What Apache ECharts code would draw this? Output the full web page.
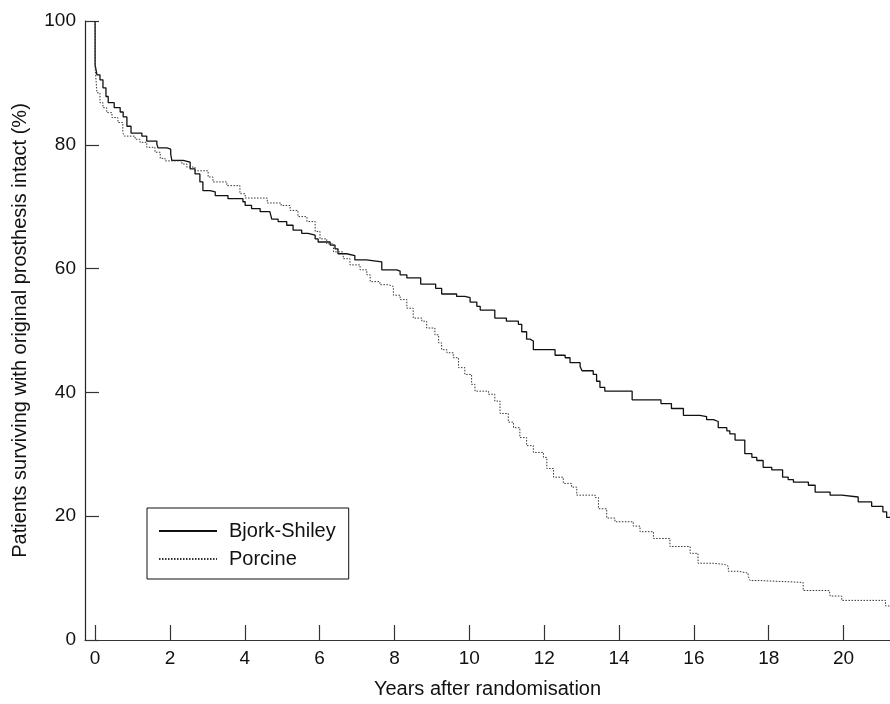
<!DOCTYPE html>
<html>
<head>
<meta charset="utf-8">
<script src="https://cdn.jsdelivr.net/npm/echarts@6/dist/echarts.min.js"></script>
<style>
html,body{margin:0;padding:0;background:#fff;}
#chart{width:890px;height:704px;}
</style>
</head>
<body>
<div id="chart"></div>
<script>
// Kaplan-Meier style step data: [years, percent]
const bjorkShiley = [
  [0,100],[0,92.9],[0.05,91.3],[0.13,90.5],[0.21,89.2],[0.29,87.8],[0.35,86.8],[0.51,86.0],
  [0.67,85.3],[0.75,84.5],[0.85,83.0],[0.96,81.9],[1.25,81.4],[1.38,80.6],[1.65,80.1],[1.68,79.5],
  [1.92,79.3],[2.02,78.5],[2.05,77.5],[2.35,77.2],[2.54,76.1],[2.67,75.3],[2.80,74.0],[2.88,72.6],
  [3.07,72.4],[3.21,71.8],[3.55,71.3],[3.95,70.8],[4.01,70.2],[4.18,69.7],[4.41,69.2],[4.67,68.9],
  [4.72,68.0],[4.89,67.6],[5.12,67.0],[5.29,66.2],[5.52,65.7],[5.69,65.4],[5.88,64.8],[5.96,64.3],
  [6.28,63.8],[6.41,63.2],[6.49,62.4],[6.72,62.1],[6.94,61.4],[7.25,61.1],[7.66,59.8],[8.06,59.6],
  [8.15,59.0],[8.33,58.5],[8.70,57.5],[9.10,56.8],[9.26,55.9],[9.66,55.5],[9.88,55.3],[10.02,54.6],
  [10.20,53.9],[10.29,53.3],[10.68,52.0],[10.99,51.5],[11.31,51.0],[11.40,49.8],[11.53,48.6],
  [11.62,48.3],[11.71,46.9],[12.29,46.0],[12.56,45.6],[12.69,44.8],[12.96,44.2],[13.01,43.5],
  [13.31,42.9],[13.40,41.8],[13.49,40.8],[13.62,40.2],[14.35,38.8],[15.12,38.2],[15.40,37.4],
  [15.72,36.3],[16.16,36.1],[16.34,35.6],[16.52,35.3],[16.65,34.3],[16.88,33.8],[16.96,33.3],
  [17.10,32.3],[17.36,30.1],[17.55,29.5],[17.68,29.0],[17.85,27.9],[18.08,27.5],[18.37,26.3],
  [18.52,25.9],[18.66,25.5],[19.06,25.0],[19.24,23.9],[19.64,23.4],[19.95,23.1],[20.39,22.3],
  [20.75,21.6],[21.05,20.7],[21.15,19.8],[21.24,19.8]
];
const porcine = [
  [0,100],[0,92.5],[0.03,90.0],[0.05,88.4],[0.13,86.8],[0.21,86.0],[0.31,85.2],[0.45,84.4],
  [0.61,83.6],[0.74,82.0],[0.78,81.4],[1.07,80.9],[1.20,80.4],[1.38,79.6],[1.60,78.8],[1.74,77.8],
  [1.87,77.4],[2.32,76.9],[2.45,76.4],[2.67,75.8],[3.02,74.8],[3.15,74.0],[3.52,73.4],[3.87,72.1],
  [4.01,71.4],[4.60,70.6],[4.97,70.2],[5.21,69.4],[5.42,68.4],[5.66,67.6],[5.88,66.0],[6.01,64.8],
  [6.19,64.0],[6.37,62.7],[6.63,61.6],[6.81,60.6],[7.08,59.8],[7.26,59.0],[7.35,57.9],[7.61,57.4],
  [7.84,57.1],[7.97,55.7],[8.15,55.0],[8.33,53.6],[8.50,52.0],[8.73,51.5],[8.86,50.4],[9.08,49.3],
  [9.18,48.0],[9.26,46.9],[9.40,46.4],[9.57,45.6],[9.71,44.0],[9.88,42.9],[10.06,41.3],[10.15,40.2],
  [10.51,39.7],[10.68,38.6],[10.82,36.6],[11.04,35.2],[11.18,34.3],[11.35,32.7],[11.53,31.4],
  [11.71,30.3],[11.98,29.5],[12.07,27.7],[12.25,26.3],[12.51,25.3],[12.73,24.7],[12.87,23.4],
  [13.36,23.0],[13.45,21.2],[13.67,19.7],[13.89,19.1],[14.38,18.4],[14.56,17.5],[14.92,16.4],
  [15.36,15.1],[15.90,14.0],[16.11,12.4],[16.51,12.2],[16.83,11.9],[16.92,11.1],[17.19,10.8],
  [17.45,10.3],[17.50,9.6],[17.77,9.3],[18.92,8.0],[19.62,7.9],[19.64,7.1],[19.95,6.4],
  [21.12,5.5],[21.24,5.5]
];
const xTicks = [0,2,4,6,8,10,12,14,16,18,20];
const seriesNames = ['Bjork-Shiley','Porcine'];
const xAxisTitle = 'Years after randomisation';
const yAxisTitle = 'Patients surviving with original prosthesis intact (%)';

const FONT = 'Liberation Sans';
const chart = echarts.init(document.getElementById('chart'), null, {renderer:'canvas'});
chart.setOption({
  animation:false,
  backgroundColor:'#ffffff',
  textStyle:{fontFamily:FONT, color:'#111'},
  grid:{left:85, width:805, top:21, height:623, containLabel:false},
  legend:{
    orient:'vertical', left:147, top:508,
    data:seriesNames,
    itemWidth:58, itemHeight:14, itemGap:8,
    padding:[13,13,10,11],
    borderColor:'#111', borderWidth:1,
    itemStyle:{color:'rgba(0,0,0,0)', borderColor:'rgba(0,0,0,0)', borderWidth:0},
    textStyle:{fontFamily:FONT, fontSize:20, color:'#111', padding:[0,0,0,7], lineHeight:20},
    selectedMode:false
  },
  xAxis:{
    type:'value', min:-0.27, max:21.24,
    name:xAxisTitle, nameLocation:'middle', nameGap:39,
    nameTextStyle:{fontFamily:FONT, fontSize:20, color:'#111'},
    splitLine:{show:false},
    axisLine:{show:true, onZero:false, lineStyle:{color:'#333', width:1.2}},
    axisTick:{show:true, inside:true, length:15, customValues:xTicks, lineStyle:{color:'#333', width:1.2}},
    axisLabel:{customValues:xTicks, fontFamily:FONT, fontSize:19, color:'#111', margin:9,
      formatter:v=>String(v)}
  },
  yAxis:{
    type:'value', min:0, max:100, interval:20,
    name:yAxisTitle, nameLocation:'middle', nameGap:55,
    nameTextStyle:{fontFamily:FONT, fontSize:20, color:'#111'},
    splitLine:{show:false},
    axisLine:{show:true, onZero:false, lineStyle:{color:'#222', width:1.2}},
    axisTick:{show:true, inside:true, length:14, lineStyle:{color:'#333', width:1.2}},
    axisLabel:{fontFamily:FONT, fontSize:19, color:'#111', margin:9}
  },
  series:[
    {name:seriesNames[0], type:'line', step:'end', data:bjorkShiley, symbol:'none',
     lineStyle:{color:'#111', width:1.3, type:'solid'}},
    {name:seriesNames[1], type:'line', step:'end', data:porcine, symbol:'none',
     lineStyle:{color:'#333', width:1, type:[1.5,1.5]}}
  ]
});
</script>
</body>
</html>
